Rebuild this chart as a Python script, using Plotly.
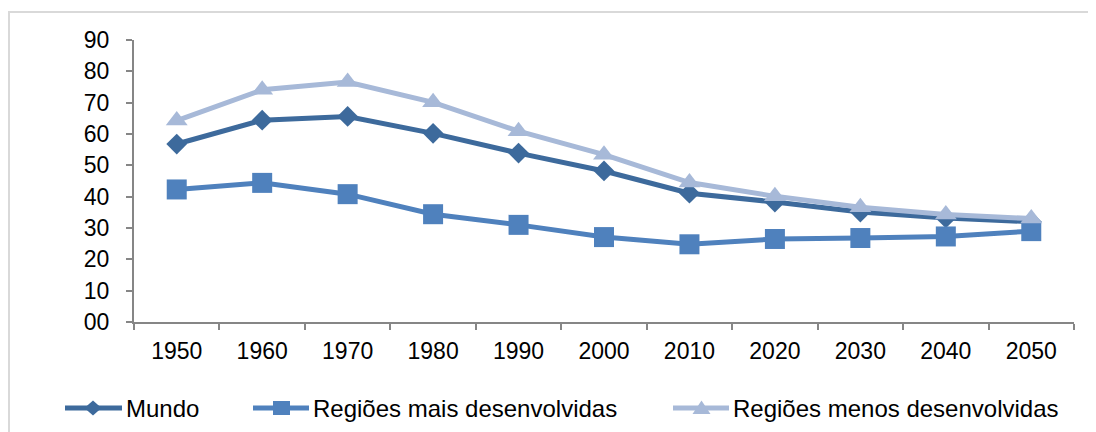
import plotly.graph_objects as go

years = ["1950", "1960", "1970", "1980", "1990", "2000", "2010", "2020", "2030", "2040", "2050"]
mundo = [56.8, 64.4, 65.6, 60.2, 53.9, 48.2, 41.1, 38.3, 35.1, 33.2, 32.0]
mais = [42.3, 44.4, 40.8, 34.4, 31.0, 27.1, 24.8, 26.5, 26.8, 27.3, 29.0]
menos = [64.3, 74.1, 76.6, 70.1, 60.9, 53.4, 44.5, 40.1, 36.6, 34.3, 33.0]
ytick_vals = [0, 10, 20, 30, 40, 50, 60, 70, 80, 90]
ytick_text = ["00", "10", "20", "30", "40", "50", "60", "70", "80", "90"]

names = ["Mundo", "Regiões mais desenvolvidas", "Regiões menos desenvolvidas"]
colors = ["#3D6A9C", "#4F81BD", "#A7B9D8"]
symbols = ["diamond", "square", "triangle-up"]
sizes = [16, 20, 19]

# page offset from default body margin
OFF = 8
W, H = 1096 - OFF, 432 - OFF
# plot area in page pixels: x 134..1074, y 40..322
L = 134 - OFF
T = 40 - OFF
R = W - (1074 - OFF)
B = H - (322 - OFF)
pw, ph = W - L - R, H - T - B

def px2x(page_px):
    return (page_px - OFF - L) / pw

def py2y(page_py):
    return (H - B - (page_py - OFF)) / ph

fig = go.Figure()
for i, (nm, vals) in enumerate(zip(names, [mundo, mais, menos])):
    fig.add_trace(go.Scatter(
        x=years, y=vals, name=nm, mode="lines+markers",
        line=dict(color=colors[i], width=5),
        marker=dict(symbol=symbols[i], size=sizes[i], color=colors[i]),
        showlegend=False,
    ))

FAM = "Liberation Sans, Arial, sans-serif"
tickfont = dict(family=FAM, size=23, color="#000000")

# manual legend (page pixel layout)
leg_y = 408
leg_items = [
    dict(x0=65, x1=122, cx=93, tx=124),
    dict(x0=253, x1=309, cx=281.5, tx=311),
    dict(x0=673, x1=729, cx=701.5, tx=731),
]
shapes = [
    dict(type="line", xref="paper", yref="paper", x0=px2x(8), x1=px2x(1100),
         y0=py2y(12), y1=py2y(12), line=dict(color="#D9D9D9", width=2)),
    dict(type="line", xref="paper", yref="paper", x0=px2x(9), x1=px2x(9),
         y0=py2y(12), y1=py2y(440), line=dict(color="#D9D9D9", width=2)),
]
annotations = []
for i, it in enumerate(leg_items):
    shapes.append(dict(type="line", xref="paper", yref="paper",
                       x0=px2x(it["x0"]), x1=px2x(it["x1"]),
                       y0=py2y(leg_y), y1=py2y(leg_y),
                       line=dict(color=colors[i], width=5)))
    cx, cy = it["cx"], leg_y
    if symbols[i] == "diamond":
        pts = [(cx, cy - 7.5), (cx + 8.5, cy), (cx, cy + 7.5), (cx - 8.5, cy)]
    elif symbols[i] == "square":
        pts = [(cx - 8.5, cy - 7), (cx + 8.5, cy - 7), (cx + 8.5, cy + 7), (cx - 8.5, cy + 7)]
    else:
        pts = [(cx, cy - 7.5), (cx + 9, cy + 6), (cx - 9, cy + 6)]
    path = "M " + " L ".join(f"{px2x(a):.5f},{py2y(b):.5f}" for a, b in pts) + " Z"
    shapes.append(dict(type="path", xref="paper", yref="paper", path=path,
                       fillcolor=colors[i], line=dict(width=0)))
    annotations.append(dict(xref="paper", yref="paper", x=px2x(it["tx"]), y=py2y(leg_y),
                            xanchor="left", yanchor="middle", showarrow=False,
                            text=names[i], font=dict(family=FAM, size=24, color="#000000")))

fig.update_layout(
    width=W, height=H,
    margin=dict(l=L, r=R, t=T, b=B),
    paper_bgcolor="white", plot_bgcolor="white",
    font=tickfont,
    showlegend=False,
    xaxis=dict(
        type="category", tickson="boundaries", ticks="outside", ticklen=6,
        tickcolor="#868686", tickwidth=2, showline=True, linecolor="#868686", linewidth=2,
        showgrid=False, zeroline=False, range=[-0.5, 10.5], tickfont=tickfont,
        ticklabelstandoff=7,
    ),
    yaxis=dict(
        range=[0, 90], tickvals=ytick_vals, ticktext=ytick_text,
        ticks="outside", ticklen=6, tickcolor="#868686", tickwidth=2,
        showline=True, linecolor="#868686", linewidth=2,
        showgrid=False, zeroline=False, tickfont=tickfont,
        ticklabelstandoff=12,
    ),
    shapes=shapes,
    annotations=annotations,
)

fig.write_html("out.html")
